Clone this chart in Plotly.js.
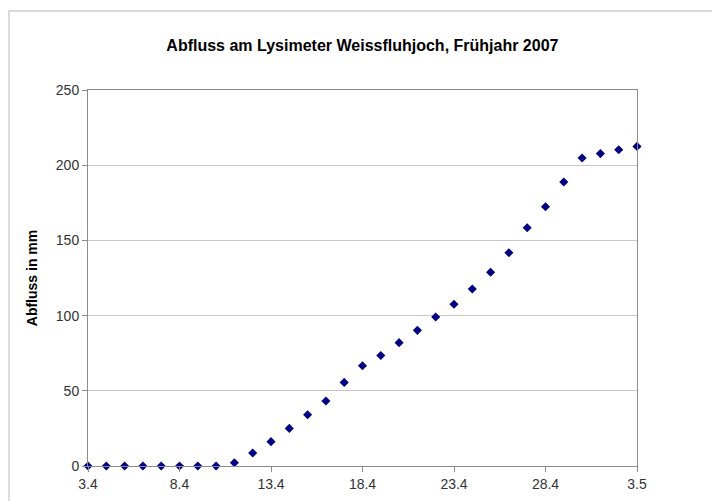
<!DOCTYPE html>
<html>
<head>
<meta charset="utf-8">
<script src="https://cdn.plot.ly/plotly-3.0.1.min.js"></script>
<style>html,body{margin:0;padding:0;background:#fff;}#chart{width:712px;height:501px;}</style>
</head>
<body>
<div id="chart"></div>
<script>
const dates = [
  "2007-04-03","2007-04-04","2007-04-05","2007-04-06","2007-04-07","2007-04-08",
  "2007-04-09","2007-04-10","2007-04-11","2007-04-12","2007-04-13","2007-04-14",
  "2007-04-15","2007-04-16","2007-04-17","2007-04-18","2007-04-19","2007-04-20",
  "2007-04-21","2007-04-22","2007-04-23","2007-04-24","2007-04-25","2007-04-26",
  "2007-04-27","2007-04-28","2007-04-29","2007-04-30","2007-05-01","2007-05-02",
  "2007-05-03"
];
const abfluss = [
  0, 0, 0, 0, 0, 0, 0, 0, 2.2, 8.6, 16.2, 25.0, 34.1, 43.2, 55.6, 66.7,
  73.5, 82.0, 90.2, 99.1, 107.5, 117.7, 128.8, 141.8, 158.4, 172.4, 188.8,
  204.8, 207.7, 210.3, 212.5
];
const tickDates = ["2007-04-03","2007-04-08","2007-04-13","2007-04-18","2007-04-23","2007-04-28","2007-05-03"];
const tickLabels = ["3.4","8.4","13.4","18.4","23.4","28.4","3.5"];

const trace = {
  x: dates, y: abfluss, type: "scatter", mode: "markers",
  marker: {symbol: "diamond", size: 7, color: "#000080"},
  cliponaxis: false,
  hoverinfo: "x+y"
};
const layout = {
  width: 712, height: 501,
  margin: {l: 88, r: 75, t: 90, b: 35},
  paper_bgcolor: "#ffffff", plot_bgcolor: "#ffffff",
  font: {family: "Liberation Sans, Arial, sans-serif", size: 14, color: "#333333"},
  showlegend: false,
  title: {text: "<b>Abfluss am Lysimeter Weissfluhjoch, Frühjahr 2007</b>",
          font: {size: 16, color: "#000000"}, x: 0.509, xanchor: "center", y: 0.91, yanchor: "middle"},
  xaxis: {
    type: "date", range: ["2007-04-03", "2007-05-03"],
    tickvals: tickDates, ticktext: tickLabels,
    showgrid: false, zeroline: false,
    showline: true, linecolor: "#8c8c8c", linewidth: 1, mirror: true,
    ticks: "outside", ticklen: 5, tickcolor: "#8c8c8c",
    tickfont: {size: 14, color: "#333333"}
  },
  yaxis: {
    range: [0, 250], tickvals: [0, 50, 100, 150, 200, 250],
    showgrid: true, gridcolor: "#c8c8c8", zeroline: false,
    showline: true, linecolor: "#8c8c8c", linewidth: 1, mirror: true,
    ticks: "outside", ticklen: 5, tickcolor: "#8c8c8c",
    tickfont: {size: 14, color: "#333333"},
    title: {text: "<b>Abfluss in mm</b>", font: {size: 14, color: "#000000"}, standoff: 14}
  },
  shapes: [{
    type: "rect", xref: "paper", yref: "paper",
    x0: -0.1439, x1: 1.3, y0: -0.2, y1: 1.210,
    line: {color: "#d0d0d0", width: 1.5}, fillcolor: "rgba(0,0,0,0)", layer: "below"
  }]
};
Plotly.newPlot("chart", [trace], layout, {displayModeBar: false, staticPlot: true});
</script>
</body>
</html>
